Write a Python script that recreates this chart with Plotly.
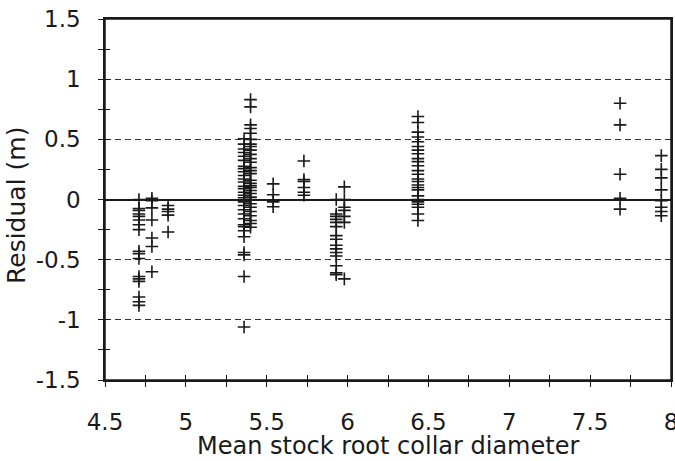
import plotly.graph_objects as go

# Mean stock root collar diameter of each group (x) and the residuals (m) read per group
diam_a, res_a = 4.71, [0.0, -0.075, -0.09, -0.12, -0.14, -0.17, -0.21, -0.25, -0.43, -0.45, -0.49,
                       -0.64, -0.66, -0.68, -0.81, -0.85, -0.88]
diam_b, res_b = 4.79, [0.01, -0.01, -0.07, -0.17, -0.32, -0.39, -0.6]
diam_c, res_c = 4.89, [-0.05, -0.08, -0.10, -0.13, -0.27]
diam_d, res_d = 5.36, [0.505, 0.46, 0.42, 0.39, 0.36, 0.325, 0.275, 0.255, 0.23, 0.2, 0.17, 0.145,
                       0.11, 0.09, 0.06, 0.035, 0.015, -0.02, -0.05, -0.085, -0.12, -0.16, -0.21,
                       -0.225, -0.26, -0.31, -0.44, -0.46, -0.64, -1.06]
diam_e, res_e = 5.40, [0.83, 0.77, 0.62, 0.59, 0.55, 0.5, 0.46, 0.44, 0.41, 0.375, 0.34, 0.31, 0.265,
                       0.24, 0.215, 0.16, 0.135, 0.115, 0.1, 0.075, 0.05, 0.02, 0.0, -0.035, -0.065,
                       -0.1, -0.135, -0.175, -0.2, -0.23]
diam_f, res_f = 5.54, [0.13, 0.04, -0.02, -0.06]
diam_g, res_g = 5.73, [0.32, 0.165, 0.15, 0.1, 0.06, 0.035]
diam_h, res_h = 5.93, [0.0, -0.12, -0.14, -0.165, -0.19, -0.225, -0.3, -0.33, -0.38, -0.41, -0.44,
                       -0.47, -0.55, -0.61, -0.625]
diam_i, res_i = 5.98, [0.105, 0.0, -0.065, -0.09, -0.14, -0.19, -0.66]
diam_j, res_j = 6.435, [0.69, 0.64, 0.56, 0.52, 0.48, 0.44, 0.41, 0.38, 0.34, 0.315, 0.28, 0.24, 0.21,
                        0.17, 0.15, 0.12, 0.1, 0.08, 0.03, 0.0, -0.02, -0.04, -0.065, -0.12, -0.175]
diam_k, res_k = 7.685, [0.8, 0.62, 0.21, 0.01, -0.08]
diam_l, res_l = 7.94, [0.365, 0.25, 0.18, 0.08, -0.01, -0.065, -0.1, -0.135]

x_ticks = [4.5, 5, 5.5, 6, 6.5, 7, 7.5, 8]
x_tick_text = ["4.5", "5", "5.5", "6", "6.5", "7", "7.5", "8"]
y_ticks = [-1.5, -1, -0.5, 0, 0.5, 1, 1.5]
y_tick_text = ["-1.5", "-1", "-0.5", "0", "0.5", "1", "1.5"]

groups = [(diam_a, res_a), (diam_b, res_b), (diam_c, res_c), (diam_d, res_d), (diam_e, res_e),
          (diam_f, res_f), (diam_g, res_g), (diam_h, res_h), (diam_i, res_i), (diam_j, res_j),
          (diam_k, res_k), (diam_l, res_l)]
xs, ys = [], []
for d, rs in groups:
    xs += [d] * len(rs)
    ys += rs

FONT = "DejaVu Sans"
INK = "#1a1a1a"

fig = go.Figure()
fig.add_trace(go.Scatter(
    x=xs, y=ys, mode="markers", showlegend=False,
    marker=dict(symbol="cross-thin", size=9, line=dict(width=1.6, color=INK)),
))
fig.add_trace(go.Scatter(x=[], y=[], xaxis="x2", yaxis="y2", showlegend=False))

common = dict(showline=True, linecolor=INK, linewidth=1.5, mirror=True, tickcolor=INK,
              tickwidth=1.2, ticklen=5, ticks="outside", automargin=False,
              ticklabeloverflow="allow",
              tickfont=dict(family=FONT, size=23, color=INK))

fig.update_layout(
    width=675, height=461,
    margin=dict(l=105, r=4, t=19, b=81),
    paper_bgcolor="white", plot_bgcolor="white",
    xaxis=dict(range=[4.5, 8], tickvals=x_ticks, ticktext=x_tick_text, showgrid=False,
               zeroline=False, ticklabelstandoff=16,
               minor=dict(dtick=0.25, tick0=4.5, ticks="outside", ticklen=5, tickcolor=INK,
                          tickwidth=1.2, showgrid=False),
               **common),
    yaxis=dict(range=[-1.5, 1.5], tickvals=y_ticks, ticktext=y_tick_text, showgrid=True,
               gridcolor="#333", gridwidth=1, griddash="6px,4px",
               zeroline=True, zerolinecolor=INK, zerolinewidth=1.5, ticklabelstandoff=13,
               minor=dict(dtick=0.25, tick0=-1.5, ticks="outside", ticklen=5, tickcolor=INK,
                          tickwidth=1.2, showgrid=False),
               **common),
    xaxis2=dict(overlaying="x", matches="x", anchor="y2", side="bottom", range=[4.5, 8],
                tickvals=x_ticks, showticklabels=False, showgrid=False, zeroline=False,
                automargin=False, showline=False,
                ticks="inside", ticklen=5, tickwidth=1.2, tickcolor=INK,
                minor=dict(dtick=0.25, tick0=4.5, ticks="inside", ticklen=5, tickcolor=INK,
                           tickwidth=1.2, showgrid=False)),
    yaxis2=dict(overlaying="y", matches="y", anchor="x2", side="left", range=[-1.5, 1.5],
                tickvals=y_ticks, showticklabels=False, showgrid=False, zeroline=False,
                automargin=False, showline=False,
                ticks="inside", ticklen=5, tickwidth=1.2, tickcolor=INK,
                minor=dict(dtick=0.25, tick0=-1.5, ticks="inside", ticklen=5, tickcolor=INK,
                           tickwidth=1.2, showgrid=False)),
    shapes=[dict(type="rect", xref="paper", yref="paper", x0=0, x1=1, y0=0, y1=1,
                 line=dict(color=INK, width=1.5), fillcolor="rgba(0,0,0,0)", layer="above")],
    annotations=[
        dict(text="Mean stock root collar diameter", xref="paper", yref="paper", x=0.5, y=0,
             xanchor="center", yanchor="middle", yshift=-66, showarrow=False,
             font=dict(family=FONT, size=24, color=INK)),
        dict(text="Residual (m)", xref="paper", yref="paper", x=0, y=0.482,
             xanchor="center", yanchor="middle", xshift=-88, textangle=-90, showarrow=False,
             font=dict(family=FONT, size=25, color=INK)),
    ],
)

fig.write_html(
    "out.html",
    config={"displayModeBar": False},
    post_script="document.body.style.margin='0';document.body.style.overflow='hidden';",
)
